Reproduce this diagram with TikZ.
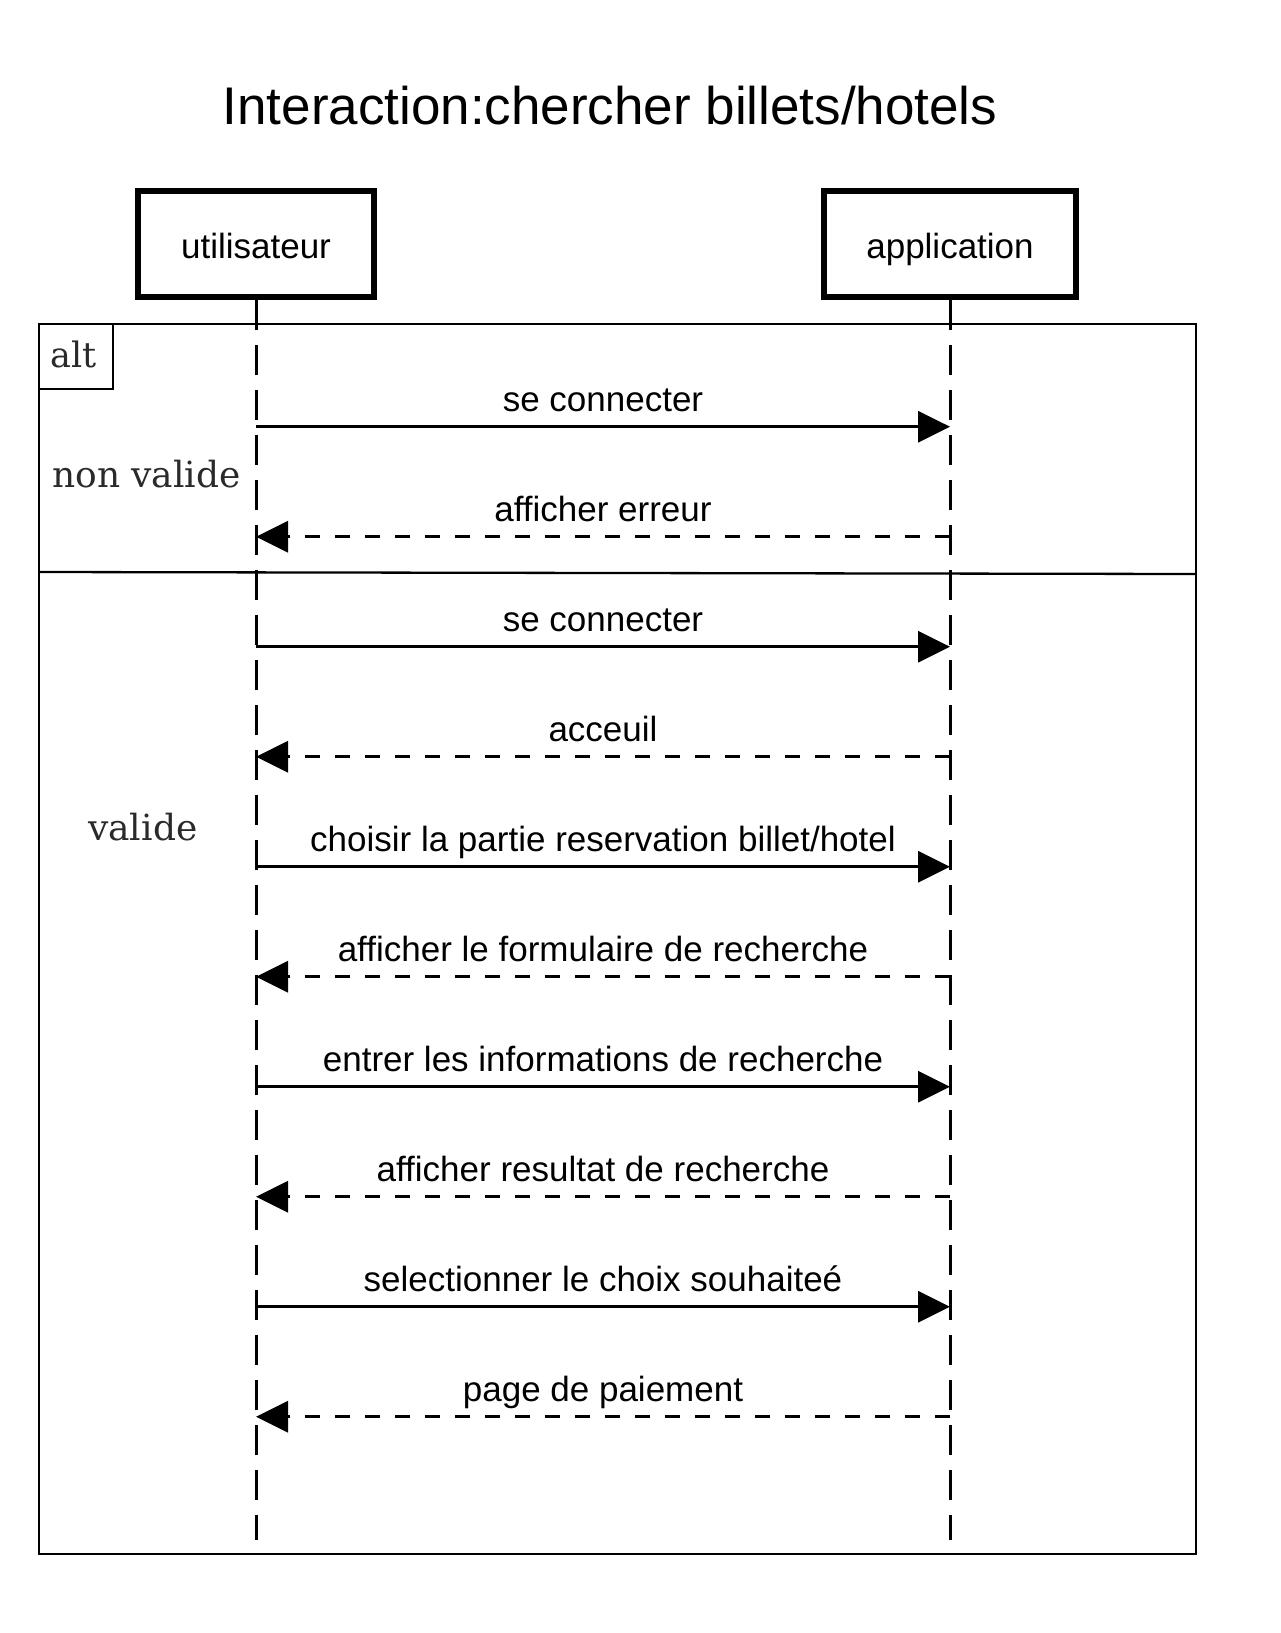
\documentclass[tikz,border=0pt]{standalone}
\usepackage{fontspec}
\setmainfont{Liberation Sans}
\newfontfamily\slabfont{DejaVu Serif}
\usetikzlibrary{arrows.meta}
\definecolor{guardgray}{HTML}{2A2A2A}
\begin{document}
\begin{tikzpicture}[x=1pt,y=-1pt,
  lifebox/.style={draw, line width=6pt, inner sep=0pt, minimum height=106pt,
    text height=28pt, text depth=0pt, font=\fontsize{35}{42}\selectfont},
  lifeline/.style={line width=3pt, dash pattern=on 30pt off 15pt},
  framepen/.style={line width=2.3pt},
  call/.style={line width=3.2pt, -{Triangle[length=32pt,width=31pt]}},
  ret/.style={line width=3.2pt, dash pattern=on 15pt off 15pt, -{Triangle[length=32pt,width=31pt]}},
  msglabel/.style={anchor=base, yshift=15pt, inner sep=0pt, font=\fontsize{35}{42}\selectfont},
  guard/.style={anchor=base west, inner sep=0pt, text=guardgray, font=\slabfont\fontsize{36}{42}\selectfont}
]
\useasboundingbox (0,0) rectangle (1280,1633);

% title
\node[anchor=base, inner sep=0pt, font=\fontsize{53}{60}\selectfont] (title) at (610,124) {Interaction:chercher billets/hotels};

% combined fragment frame
\draw[framepen] (39,324) rectangle (1196,1554);
\draw[framepen] (39,389) -- (113,389) -- (113,324);
\draw[framepen] (39,572) -- (1196,574);
\node[guard, font=\slabfont\fontsize{35}{42}\selectfont] (alt) at (50,367) {alt};
\node[guard] (g1) at (52,487) {non valide};
\node[guard] (g2) at (88,840) {valide};

% lifeline heads
\node[lifebox, minimum width=236pt] (util) at (256,244) {utilisateur};
\node[lifebox, minimum width=252pt] (app) at (950,244) {application};

\coordinate (uend) at (256,1540);
\coordinate (aend) at (950,1540);
\draw[lifeline] (util.south) -- (uend);
\draw[lifeline] (app.south) -- (aend);

% message end points
\foreach \i/\y in {1/426.7,2/536.7,3/646.7,4/756.7,5/866.7,6/976.7,7/1086.7,8/1196.7,9/1306.7,10/1416.7}{
  \coordinate (u\i) at (256,\y);
  \coordinate (a\i) at (950,\y);
}

\draw[call] (u1) -- node[msglabel] {se connecter} (a1);
\draw[ret]  (a2) -- node[msglabel] {afficher erreur} (u2);
\draw[call] (u3) -- node[msglabel] {se connecter} (a3);
\draw[ret]  (a4) -- node[msglabel] {acceuil} (u4);
\draw[call] (u5) -- node[msglabel] {choisir la partie reservation billet/hotel} (a5);
\draw[ret]  (a6) -- node[msglabel] {afficher le formulaire de recherche} (u6);
\draw[call] (u7) -- node[msglabel] {entrer les informations de recherche} (a7);
\draw[ret]  (a8) -- node[msglabel] {afficher resultat de recherche} (u8);
\draw[call] (u9) -- node[msglabel] {selectionner le choix souhaiteé} (a9);
\draw[ret]  (a10) -- node[msglabel] {page de paiement} (u10);
\end{tikzpicture}
\end{document}
